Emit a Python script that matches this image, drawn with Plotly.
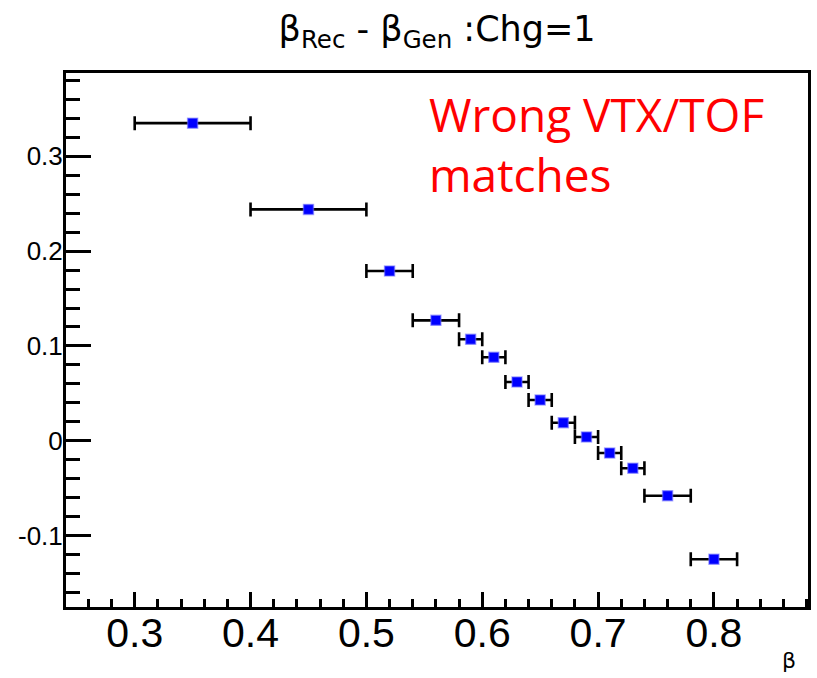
import plotly.graph_objects as go

# Data
beta = [0.35, 0.45, 0.52, 0.56, 0.59, 0.61, 0.63, 0.65, 0.67, 0.69, 0.71, 0.73, 0.76, 0.80]
beta_halfwidth = [0.05, 0.05, 0.02, 0.02, 0.01, 0.01, 0.01, 0.01, 0.01, 0.01, 0.01, 0.01, 0.02, 0.02]
delta_beta = [0.335, 0.244, 0.179, 0.127, 0.107, 0.088, 0.062, 0.043, 0.019, 0.004, -0.013, -0.029, -0.058, -0.125]

y_tickvals = [-0.1, 0.0, 0.1, 0.2, 0.3]
y_ticktext = ["-0.1", "0", "0.1", "0.2", "0.3"]
x_tickvals = [0.3, 0.4, 0.5, 0.6, 0.7, 0.8]
x_ticktext = ["0.3", "0.4", "0.5", "0.6", "0.7", "0.8"]

title_text = "β<sub>Rec</sub> - β<sub>Gen</sub> :Chg=1"
note_text = "Wrong VTX/TOF<br>matches"
xlabel_text = "β"

fig = go.Figure()
fig.add_trace(go.Scatter(
    x=beta, y=delta_beta, mode="markers",
    marker=dict(symbol="square", size=10, color="#0000ff",
                line=dict(width=1.5, color="rgba(110,110,255,0.55)")),
    error_x=dict(type="data", array=beta_halfwidth, visible=True,
                 color="black", thickness=2.6, width=7),
    showlegend=False,
))

fig.update_layout(
    width=817, height=678,
    margin=dict(l=66, r=6, t=73, b=71),
    paper_bgcolor="white", plot_bgcolor="white",
    title=dict(text=title_text, x=0.535, xanchor="center", y=0.958, yanchor="middle",
               font=dict(family="DejaVu Sans", size=35, color="black")),
    annotations=[
        dict(text=note_text, xref="paper", yref="paper", x=0.487, y=0.985,
             xanchor="left", yanchor="top", align="left", showarrow=False,
             font=dict(family="Open Sans", size=46, color="#ff0000")),
        dict(text=xlabel_text, xref="paper", yref="paper", x=0.9745, y=-0.101,
             xanchor="center", yanchor="middle", showarrow=False,
             font=dict(family="DejaVu Sans", size=22, color="black")),
    ],
)

fig.update_xaxes(
    range=[0.2407, 0.8812], showgrid=False, zeroline=False,
    showline=True, linewidth=3, linecolor="black", mirror=True,
    ticks="inside", ticklen=15, tickwidth=3, tickcolor="black",
    tickvals=x_tickvals, ticktext=x_ticktext, ticklabelstandoff=-12,
    tickfont=dict(family="Liberation Sans", size=41, color="black"),
    minor=dict(ticks="inside", ticklen=8, tickwidth=3, tickcolor="black", dtick=0.02, tick0=0),
)
fig.update_yaxes(
    range=[-0.1754, 0.3879], showgrid=False, zeroline=False,
    showline=True, linewidth=3, linecolor="black", mirror=True,
    ticks="inside", ticklen=25, tickwidth=3, tickcolor="black",
    tickvals=y_tickvals, ticktext=y_ticktext, ticklabelstandoff=-5,
    tickfont=dict(family="Liberation Sans", size=26, color="black"),
    minor=dict(ticks="inside", ticklen=14, tickwidth=3, tickcolor="black", dtick=0.02, tick0=0),
)

fig.write_html("out.html")
